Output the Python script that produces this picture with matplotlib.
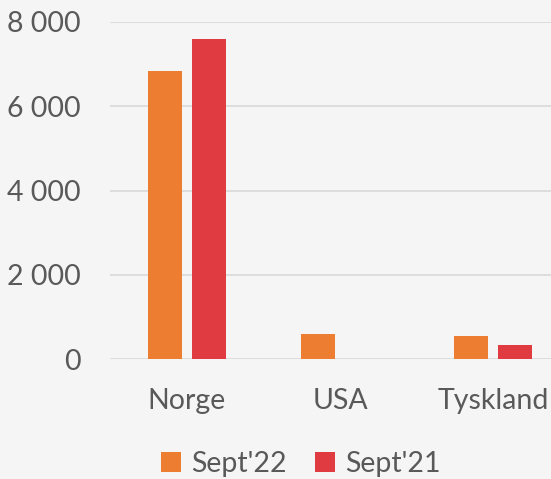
import matplotlib.pyplot as plt
import numpy as np

# data
countries = ['Norge', 'USA', 'Tyskland']
sept22 = [6840, 595, 550]
sept21 = [7600, 0, 330]
y_ticks = [0, 2000, 4000, 6000, 8000]
y_labels = ['0', '2 000', '4 000', '6 000', '8 000']

orange = '#ED7D31'
red = '#DF3B41'
text_col = '#595959'
bg = '#F5F5F5'

plt.rcParams['font.family'] = ['Lato', 'DejaVu Sans']

fig = plt.figure(figsize=(5.51, 4.79), dpi=100, facecolor=bg)
# axes runs past the right edge, like the cropped original
ax = fig.add_axes([110 / 551, 1 - 359 / 479, 460 / 551, 337 / 479])
ax.set_facecolor(bg)

x = np.arange(len(countries))
w = 0.222
off = 0.144
ax.bar(x - off, sept22, width=w, color=orange, label="Sept'22", zorder=3)
ax.bar(x + off, sept21, width=w, color=red, label="Sept'21", zorder=3)

ax.set_xlim(-0.5, len(countries) - 0.5)
ax.set_ylim(0, 8000)
ax.set_yticks(y_ticks)
ax.set_yticklabels(y_labels)
ax.set_xticks(x)
ax.set_xticklabels(countries)

ax.grid(axis='y', color='#D9D9D9', linewidth=1.2, zorder=0)
for s in ax.spines.values():
    s.set_visible(False)
ax.tick_params(axis='both', length=0, labelsize=20.5, colors=text_col)
ax.tick_params(axis='y', pad=21)
ax.tick_params(axis='x', pad=21)

fig.legend(loc='center', bbox_to_anchor=(301 / 551, 1 - 464 / 479), ncol=2, frameon=False,
           fontsize=20.5, labelcolor=text_col, handlelength=0.7, handleheight=0.7,
           handletextpad=0.35, columnspacing=1.0, borderaxespad=0)

fig.savefig('out.png', dpi=100, facecolor=bg)
